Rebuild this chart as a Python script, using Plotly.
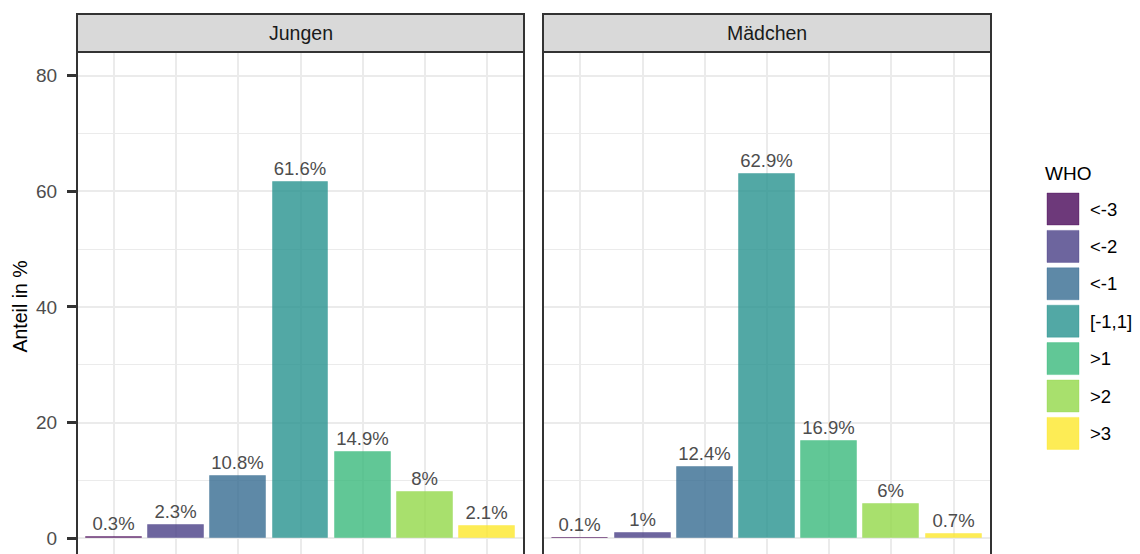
import plotly.graph_objects as go

# data
categories = ["<-3", "<-2", "<-1", "[-1,1]", ">1", ">2", ">3"]
jungen = [0.3, 2.3, 10.8, 61.6, 14.9, 8.0, 2.1]
maedchen = [0.1, 1.0, 12.4, 62.9, 16.9, 6.0, 0.7]
panels = ["Jungen", "Mädchen"]

# viridis(7)
viridis = ["#440154", "#443A83", "#31688E", "#21908C", "#35B779", "#8FD744", "#FDE725"]


def rgba(hex_color, a):
    h = hex_color.lstrip("#")
    r, g, b = int(h[0:2], 16), int(h[2:4], 16), int(h[4:6], 16)
    return f"rgba({r},{g},{b},{a})"


def pct(v):
    return f"{v:g}%"


# the page body has an 8px margin, so the figure is drawn 8px smaller
OFF = 8
W, H = 1140 - OFF, 554 - OFF
FONT = "Liberation Sans, Arial, sans-serif"


def px(x):
    return (x - OFF) / W


def py(y):
    return 1 - (y - OFF) / H


# panel geometry in window pixels
panel_x = [(77, 524), (543, 991)]
panel_top = 52
strip_top = 14

fig = go.Figure()

for p, values in enumerate([jungen, maedchen]):
    xa = "x" if p == 0 else "x2"
    ya = "y" if p == 0 else "y2"
    for i, cat in enumerate(categories):
        fig.add_trace(go.Bar(
            x=[cat], y=[values[i]],
            xaxis=xa, yaxis=ya,
            width=0.9,
            marker=dict(color=rgba(viridis[i], 0.78),
                        line=dict(color=rgba(viridis[i], 0.35), width=1)),
            text=[pct(values[i])],
            textposition="outside",
            textfont=dict(family=FONT, size=18.5, color="#4D4D4D"),
            cliponaxis=False,
            showlegend=False,
            hoverinfo="x+y",
        ))

# y=0 sits at window y 538.3, 5.785 px per unit, panel top at 52
y_range = [-(554 - 538.3) / 5.785, (538.3 - panel_top) / 5.785]
ydom = [0, py(panel_top)]

axis_common = dict(
    type="category",
    categoryorder="array",
    categoryarray=categories,
    range=[-0.6, 6.6],
    showgrid=True, gridcolor="#EBEBEB", gridwidth=2.2,
    showticklabels=False, ticks="", zeroline=False, showline=False,
    fixedrange=True,
)
yaxis_common = dict(
    range=y_range, domain=ydom,
    tickvals=[0, 20, 40, 60, 80],
    showgrid=True, gridcolor="#EBEBEB", gridwidth=2.2,
    minor=dict(tickvals=[10, 30, 50, 70], showgrid=True,
               gridcolor="#EBEBEB", gridwidth=1.2, ticks=""),
    zeroline=False, showline=False,
    tickfont=dict(family=FONT, size=19, color="#4D4D4D"),
)

fig.update_layout(
    width=W, height=H,
    margin=dict(l=0, r=0, t=0, b=0),
    paper_bgcolor="white", plot_bgcolor="white",
    barmode="overlay",
    bargap=0,
    showlegend=False,
    font=dict(family=FONT),
    xaxis=dict(domain=[px(panel_x[0][0]), px(panel_x[0][1])], anchor="y", **axis_common),
    xaxis2=dict(domain=[px(panel_x[1][0]), px(panel_x[1][1])], anchor="y2", **axis_common),
    yaxis=dict(anchor="x", ticks="outside", ticklen=9, tickwidth=2.5, tickcolor="#333333",
               ticklabelstandoff=6, **yaxis_common),
    yaxis2=dict(anchor="x2", showticklabels=False, ticks="", **yaxis_common),
)

shapes = []
annotations = []
y_strip_top = py(strip_top)
y_strip_bot = py(panel_top)
for p, name in enumerate(panels):
    x0, x1 = px(panel_x[p][0]), px(panel_x[p][1])
    # panel border (bottom is cut off by the image edge)
    for xs in (x0, x1):
        shapes.append(dict(type="line", xref="paper", yref="paper",
                           x0=xs, x1=xs, y0=-0.05, y1=y_strip_bot,
                           line=dict(color="#333333", width=2)))
    # strip
    shapes.append(dict(type="rect", xref="paper", yref="paper",
                       x0=x0, x1=x1, y0=y_strip_bot, y1=y_strip_top,
                       fillcolor="#D9D9D9", line=dict(color="#333333", width=2)))
    annotations.append(dict(xref="paper", yref="paper", x=(x0 + x1) / 2,
                            y=(y_strip_top + y_strip_bot) / 2, text=name,
                            showarrow=False, xanchor="center", yanchor="middle",
                            font=dict(family=FONT, size=19.5, color="#1A1A1A")))

# y axis title
annotations.append(dict(xref="paper", yref="paper", x=px(19.5), y=py(307),
                        text="Anteil in %", textangle=-90, showarrow=False,
                        xanchor="center", yanchor="middle",
                        font=dict(family=FONT, size=19.5, color="black")))

# legend drawn by hand (ggplot-sized keys)
annotations.append(dict(xref="paper", yref="paper", x=px(1043), y=py(173),
                        text="WHO", showarrow=False, xanchor="left", yanchor="middle",
                        font=dict(family=FONT, size=19, color="black")))
key_top, key_pitch, key_size = 193, 37.4, 32
for i, cat in enumerate(categories):
    t = key_top + i * key_pitch
    shapes.append(dict(type="rect", xref="paper", yref="paper",
                       x0=px(1047), x1=px(1047 + key_size),
                       y0=py(t + key_size), y1=py(t),
                       fillcolor=rgba(viridis[i], 0.78),
                       line=dict(color=rgba(viridis[i], 0.35), width=1)))
    annotations.append(dict(xref="paper", yref="paper", x=px(1089),
                            y=py(t + key_size / 2), text=cat,
                            showarrow=False, xanchor="left", yanchor="middle",
                            borderpad=0,
                            font=dict(family=FONT, size=18.5, color="black")))

fig.update_layout(shapes=shapes, annotations=annotations)

fig.write_html("out.html")
